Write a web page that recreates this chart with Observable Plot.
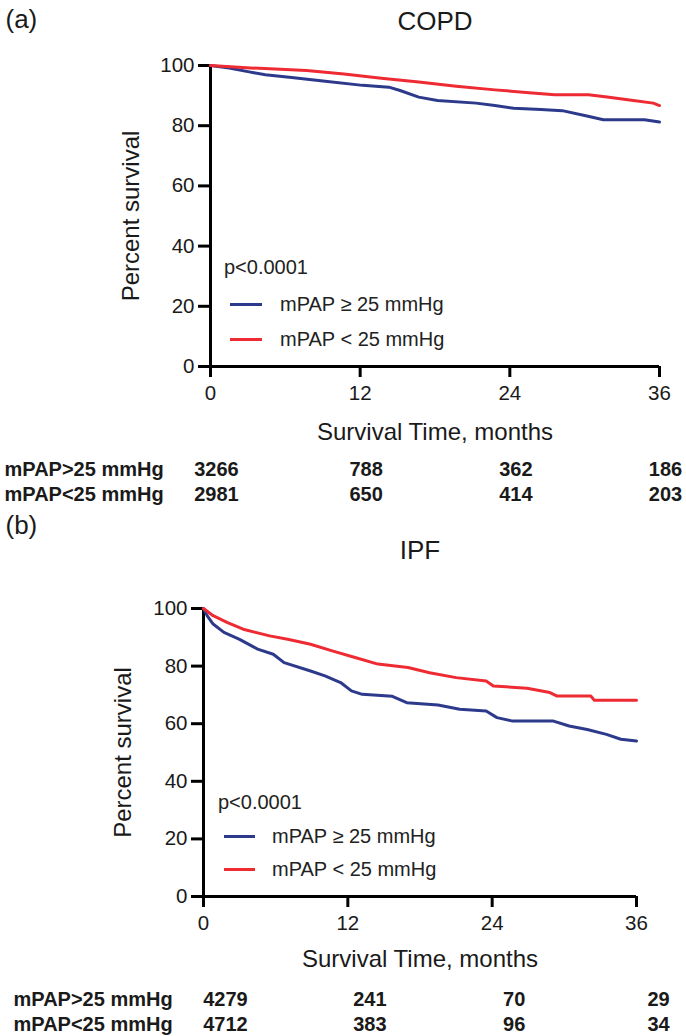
<!DOCTYPE html>
<html><head><meta charset="utf-8">
<script src="https://cdn.jsdelivr.net/npm/d3@7"></script>
<script src="https://cdn.jsdelivr.net/npm/@observablehq/plot@0.6"></script>
<style>
body{margin:0;background:#fff;font-family:"Liberation Sans",Arial,sans-serif;}
#root{position:relative;width:686px;height:1036px;overflow:hidden;background:#fff;}
.panel{position:absolute;left:0;}
.leg{position:absolute;font-size:20px;color:#222;white-space:nowrap;line-height:1;}
.sw{position:absolute;height:3px;}
svg g[aria-label$="axis tick"]{stroke-width:3px;}
</style></head><body><div id="root"></div>
<script>
// ---- data ----
const groups = ["mPAP ≥ 25 mmHg", "mPAP < 25 mmHg"];
const colors = ["#2d3a8c", "#ee2a33"];
const riskLabels = ["mPAP>25 mmHg", "mPAP<25 mmHg"];
const riskMonths = [0, 12, 24, 36];
const yTicks = [0, 20, 40, 60, 80, 100];

// COPD
const copdHighT = [0, 1.5, 3.2, 4.4, 6.5, 9.2, 12.2, 14.3, 15.2, 16.7, 18.2, 21.3, 22.8, 24.3, 26.5, 28.2, 30.0, 31.5, 34.8, 36.0];
const copdHighS = [100, 99.2, 97.8, 96.9, 96.0, 94.8, 93.4, 92.8, 91.7, 89.5, 88.4, 87.5, 86.7, 85.8, 85.4, 85.0, 83.4, 82.0, 82.0, 81.2];
const copdLowT = [0, 3.2, 7.7, 10.7, 13.7, 16.7, 19.7, 22.8, 25.8, 27.6, 30.3, 31.8, 33.9, 35.5, 36.0];
const copdLowS = [100, 99.2, 98.3, 97.2, 95.8, 94.5, 93.1, 91.9, 90.9, 90.3, 90.3, 89.5, 88.4, 87.5, 86.7];
const copdRiskHigh = [3266, 788, 362, 186];
const copdRiskLow = [2981, 650, 414, 203];

// IPF
const ipfHighT = [0, 0.3, 0.8, 1.7, 3.0, 4.5, 5.8, 6.7, 8.9, 10.1, 11.4, 12.3, 13.2, 15.7, 16.9, 19.5, 21.3, 23.5, 24.4, 25.7, 29.1, 30.4, 31.9, 33.5, 34.7, 36.0];
const ipfHighS = [100, 97.5, 94.6, 91.7, 89.3, 85.9, 84.1, 81.2, 78.3, 76.6, 74.3, 71.4, 70.2, 69.5, 67.3, 66.5, 65.0, 64.4, 62.1, 60.9, 60.9, 59.2, 58.0, 56.3, 54.6, 54.0];
const ipfLowT = [0, 0.8, 2.0, 3.3, 5.5, 7.0, 8.9, 10.7, 12.6, 14.5, 17.0, 18.8, 21.0, 23.5, 24.1, 26.9, 28.8, 29.4, 32.2, 32.5, 36.0];
const ipfLowS = [100, 97.5, 95.1, 92.8, 90.5, 89.3, 87.6, 85.3, 83.0, 80.7, 79.5, 77.7, 76.0, 74.8, 73.1, 72.3, 70.8, 69.6, 69.6, 68.1, 68.1];
const ipfRiskHigh = [4279, 241, 70, 29];
const ipfRiskLow = [4712, 383, 96, 34];

const FONT = "Liberation Sans, Arial, Helvetica, sans-serif";
const INK = "#1a1a1a";

function series(t, s, g) { return t.map((v, i) => ({t: v, s: s[i], g})); }

function panel(cfg) {
  const data = [...series(cfg.hiT, cfg.hiS, groups[0]), ...series(cfg.loT, cfg.loS, groups[1])];
  const riskRow = (vals, dy) => Plot.text(vals, {
    x: (d, i) => riskMonths[i], text: d => String(d), frameAnchor: "bottom",
    lineAnchor: "middle", textAnchor: "middle",
    dy, dx: cfg.riskDx, fontWeight: "bold", fontSize: 20, fill: INK
  });
  const rowLabel = (lab, dy) => Plot.text([lab], {
    text: d => d, frameAnchor: "bottom-left", dx: cfg.rowDx, dy,
    lineAnchor: "middle", textAnchor: "start", fontWeight: "bold", fontSize: 20, fill: INK
  });
  return Plot.plot({
    width: 686, height: cfg.height,
    marginLeft: cfg.ml, marginRight: cfg.mr, marginTop: cfg.mt, marginBottom: cfg.mb,
    style: {fontFamily: FONT, fontSize: "20px", color: INK, background: "#fff", overflow: "visible"},
    x: {domain: [0, 36]},
    y: {domain: [0, 100]},
    color: {domain: groups, range: colors},
    marks: [
      Plot.axisY({ticks: yTicks, tickSize: 12, tickPadding: 4, strokeWidth: 3, label: null, fontSize: 20.5, fill: INK, stroke: "#000"}),
      Plot.axisX({ticks: riskMonths, tickSize: 11, tickPadding: 8, strokeWidth: 3, label: null, fontSize: 20.5, fill: INK, stroke: "#000"}),
      Plot.ruleX([0], {y1: 0, y2: 100, strokeWidth: 3, stroke: "#000"}),
      Plot.ruleY([0], {x1: 0, x2: 36, strokeWidth: 3, stroke: "#000"}),
      Plot.line(data, {x: "t", y: "s", z: "g", stroke: "g", strokeWidth: 3, curve: "linear"}),
      Plot.text([cfg.title], {text: d => d, frameAnchor: "top", lineAnchor: "middle", textAnchor: "middle", dy: cfg.titleDy, fontSize: 26, fill: INK}),
      Plot.text([cfg.tag], {text: d => d, frameAnchor: "top-left", lineAnchor: "middle", dx: cfg.tagDx, dy: cfg.tagDy, textAnchor: "start", fontSize: 26, fill: INK}),
      Plot.text(["Percent survival"], {text: d => d, frameAnchor: "left", lineAnchor: "middle", textAnchor: "middle", dx: cfg.ylabDx, rotate: -90, fontSize: 24, fill: INK}),
      Plot.text(["Survival Time, months"], {text: d => d, frameAnchor: "bottom", lineAnchor: "middle", textAnchor: "middle", dy: cfg.xlabDy, fontSize: 24, fill: INK}),
      rowLabel(riskLabels[0], 103), rowLabel(riskLabels[1], 128),
      riskRow(cfg.rHi, 103), riskRow(cfg.rLo, 128)
    ]
  });
}

function addLegend(root, L) {
  const p = document.createElement("div");
  p.className = "leg"; p.textContent = "p<0.0001";
  p.style.left = L.px + "px"; p.style.top = (L.py - 10) + "px";
  root.appendChild(p);
  groups.forEach((g, i) => {
    const y = L.ly[i];
    const sw = document.createElement("div");
    sw.className = "sw"; sw.style.background = colors[i];
    sw.style.left = L.sx0 + "px"; sw.style.width = (L.sx1 - L.sx0) + "px"; sw.style.top = (y - 1.5) + "px";
    root.appendChild(sw);
    const t = document.createElement("div");
    t.className = "leg"; t.textContent = g;
    t.style.left = L.tx + "px"; t.style.top = (y - 10) + "px";
    root.appendChild(t);
  });
}

const root = document.getElementById("root");

const a = panel({
  height: 515, ml: 210, mr: 27, mt: 65, mb: 149,
  hiT: copdHighT, hiS: copdHighS, loT: copdLowT, loS: copdLowS,
  rHi: copdRiskHigh, rLo: copdRiskLow, riskDx: 6, rowDx: -206,
  title: "COPD", titleDy: -44, tag: "(a)", tagDx: -205, tagDy: -46,
  ylabDx: -79, xlabDy: 66
});
const wa = document.createElement("div"); wa.className = "panel"; wa.style.top = "0px"; wa.appendChild(a); root.appendChild(wa);

const b = panel({
  height: 521, ml: 203, mr: 50, mt: 93, mb: 140,
  hiT: ipfHighT, hiS: ipfHighS, loT: ipfLowT, loS: ipfLowS,
  rHi: ipfRiskHigh, rLo: ipfRiskLow, riskDx: 22, rowDx: -190,
  title: "IPF", titleDy: -58, tag: "(b)", tagDx: -198, tagDy: -83,
  ylabDx: -80, xlabDy: 63
});
const wb = document.createElement("div"); wb.className = "panel"; wb.style.top = "515px"; wb.appendChild(b); root.appendChild(wb);

addLegend(root, {px: 224, py: 267, ly: [304, 339], sx0: 230, sx1: 262, tx: 280});
addLegend(root, {px: 218, py: 802, ly: [836, 869], sx0: 224, sx1: 255, tx: 272});
</script></body></html>
